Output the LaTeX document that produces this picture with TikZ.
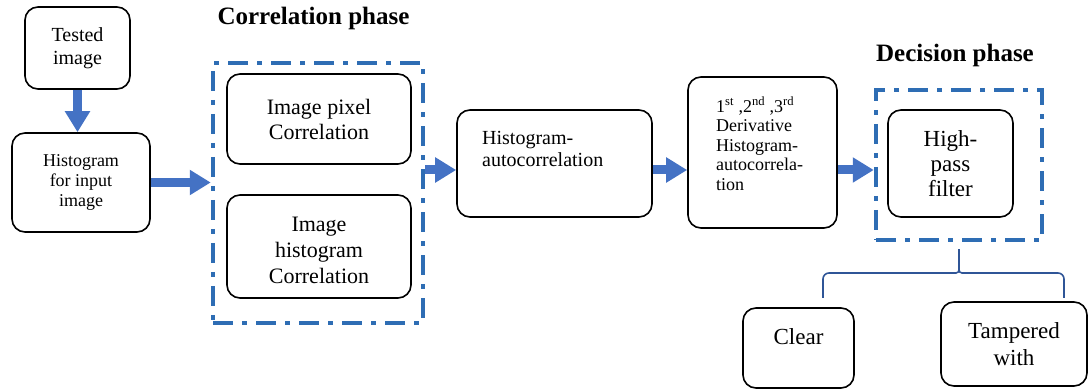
\documentclass[tikz,border=0pt]{standalone}
\usepackage{fontspec}
\setmainfont{Liberation Serif}
\usetikzlibrary{arrows.meta}
\definecolor{arrowblue}{HTML}{4472C4}
\definecolor{phaseblue}{HTML}{2E6DB4}
\definecolor{bracketblue}{HTML}{2F5597}
\begin{document}
\begin{tikzpicture}[x=1pt,y=-1pt,
    box/.style={draw, line width=1.6pt, rounded corners=13pt, inner sep=0pt},
    phasebox/.style={draw=phaseblue, line width=4.5pt, inner sep=0pt,
      dash pattern=on 20pt off 9pt on 5pt off 9pt},
    flow/.style={draw=arrowblue, line width=9pt, -{Triangle[length=21pt,width=24pt]}},
    small/.style={font=\fontsize{18}{20}\selectfont, align=center},
    mid/.style={font=\fontsize{22}{25}\selectfont, align=center},
    title/.style={font=\fontsize{25}{28}\selectfont\bfseries}]
  \useasboundingbox (0,0) rectangle (1088,390);

  % left column
  \node[box, minimum width=105pt, minimum height=82pt] (test) at (77.5,48) {};
  \node[small, font=\fontsize{20}{23}\selectfont] at (test) {Tested\\image};
  \node[box, minimum width=138pt, minimum height=99pt] (hist) at (81,182.5) {};
  \node[small] at (hist) {Histogram\\for input\\image};

  % correlation phase
  \node[phasebox, minimum width=210pt, minimum height=260pt] (corr) at (318,193) {};
  \node[title] at (313.5,18) {Correlation phase};
  \node[box, minimum width=184pt, minimum height=90pt] (pix) at (319,119) {};
  \node[mid] at (pix) {Image pixel\\Correlation};
  \node[box, minimum width=184pt, minimum height=103pt] (hcorr) at (319,246.5) {};
  \node[mid, font=\fontsize{22}{26}\selectfont] at (319,250) {Image\\histogram\\Correlation};

  % autocorrelation
  \node[box, minimum width=195pt, minimum height=107pt] (auto) at (554.5,163.5) {};
  \node[small, font=\fontsize{20}{22}\selectfont, align=left, anchor=north west, inner sep=0pt]
    at (482,131) {Histogram-\\autocorrelation};
  \node[box, minimum width=149pt, minimum height=151pt] (deriv) at (762.5,152.5) {};
  \node[small, font=\fontsize{18}{19.5}\selectfont, align=left, anchor=north west, inner sep=0pt]
    at (716,97) {1\textsuperscript{st} ,2\textsuperscript{nd} ,3\textsuperscript{rd}\\Derivative\\Histogram-\\autocorrela-\\tion};

  % decision phase
  \node[phasebox, minimum width=166pt, minimum height=150pt] (dec) at (959,165) {};
  \node[title] at (955,55) {Decision phase};
  \node[box, minimum width=125pt, minimum height=107pt] (hpf) at (950.5,163.5) {};
  \node[mid, font=\fontsize{23}{25}\selectfont] at (hpf) {High-\\pass\\filter};

  \node[box, minimum width=111pt, minimum height=80pt] (clear) at (798.5,348) {};
  \node[mid, font=\fontsize{23}{25}\selectfont] at (798.5,337) {Clear};
  \node[box, minimum width=146pt, minimum height=84pt] (tamp) at (1014,344) {};
  \node[mid, font=\fontsize{23}{27}\selectfont] at (tamp) {Tampered\\with};

  % arrows
  \coordinate (row) at (0,170);
  \draw[flow] (test.south) -- (test.south |- hist.north);
  \draw[flow] (hist.east) -- (hist.east -| corr.west);
  \draw[flow] (corr.east |- row) -- (auto.west |- row);
  \draw[flow] (auto.east |- row) -- (deriv.west |- row);
  \draw[flow] (deriv.east |- row) -- (dec.west |- row);

  % bracket
  \coordinate (brL) at (823,298);
  \coordinate (brR) at (1064,298);
  \coordinate (tip) at ([yshift=-7pt]dec.south);
  \draw[bracketblue, line width=1.6pt, rounded corners=6pt]
    (brL) -- (823,273) [rounded corners=3pt] -- (tip |- 0,273) -- (tip);
  \draw[bracketblue, line width=1.6pt, rounded corners=3pt]
    (tip) -- (tip |- 0,273) [rounded corners=6pt] -- (1064,273) -- (brR);
\end{tikzpicture}
\end{document}
